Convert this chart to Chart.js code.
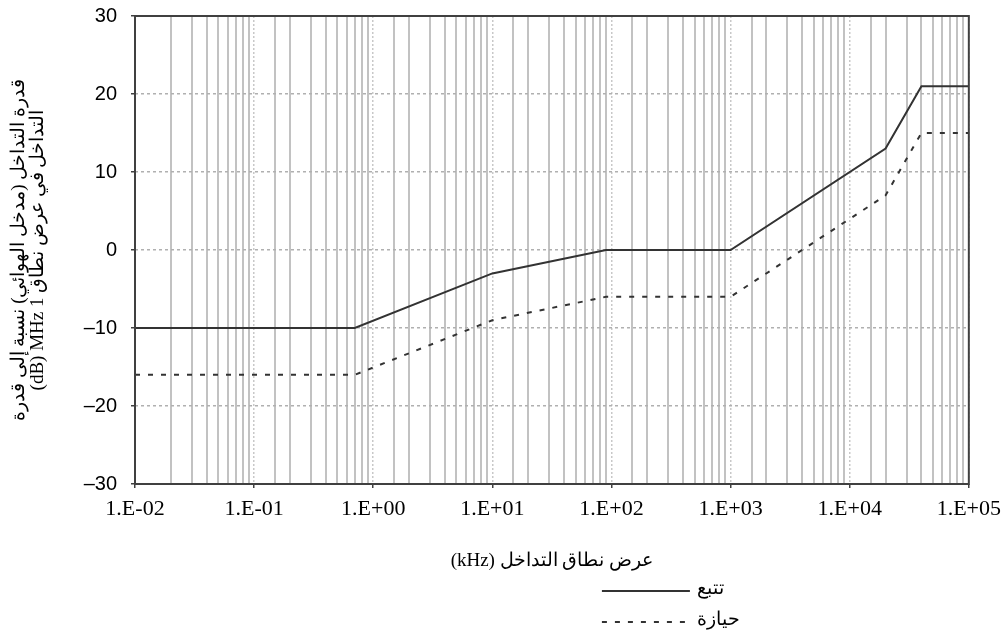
<!DOCTYPE html>
<html lang="ar">
<head>
<meta charset="utf-8">
<title>قدرة التداخل مقابل عرض النطاق</title>
<script src="https://cdn.jsdelivr.net/npm/chart.js@4.4.1/dist/chart.umd.min.js"></script>
<style>
  html, body { margin: 0; padding: 0; background: #fff; overflow: hidden; width: 1005px; height: 637px; }
  #wrap { width: 1009px; height: 647px; position: absolute; left: 0; top: -10px; }
</style>
</head>
<body>
<div id="wrap"><canvas id="chartCanvas"></canvas></div>
<script>
// --- Data ---
const bandwidthKHz = [0.01, 0.7, 10, 90, 1000, 20000, 40000, 100000];
const trackingDb = [-10, -10, -3, 0, 0, 13, 21, 21];
const holdingDb = [-16, -16, -9, -6, -6, 7, 15, 15];
const seriesLabels = ['تتبع', 'حيازة'];
const yTicks = [-30, -20, -10, 0, 10, 20, 30];
const xTickLabels = ['1.E-02', '1.E-01', '1.E+00', '1.E+01', '1.E+02', '1.E+03', '1.E+04', '1.E+05'];
const xTitle = 'عرض نطاق التداخل (kHz)';
const yTitleLines = ['قدرة التداخل (مدخل الهوائي) نسبة إلى قدرة', '(dB) MHz 1 التداخل في عرض نطاق'];

const serif = '"Liberation Serif", "DejaVu Serif", serif';
const lineColor = '#333333';

// --- Helpers ---
function decadeIndex(v) {
    if (v == null) return -1;
    const e = Math.log10(v);
    if (Math.abs(e - Math.round(e)) > 1e-9) return -1;
    return Math.round(e) + 2;
}

function toPoints(ys) {
    return bandwidthKHz.map((x, i) => ({ x: x, y: ys[i] }));
}

// --- Frame, axis titles and legend drawn on top ---
const decorations = {
    id: 'decorations',
    afterDraw(chart) {
        const { ctx, chartArea } = chart;
        const cx = (chartArea.left + chartArea.right) / 2;
        const cy = (chartArea.top + chartArea.bottom) / 2;
        const bottom = chartArea.bottom;
        ctx.save();

        ctx.strokeStyle = '#404040';
        ctx.lineWidth = 2;
        ctx.strokeRect(chartArea.left, chartArea.top, chartArea.right - chartArea.left, chartArea.bottom - chartArea.top);

        ctx.fillStyle = '#000';
        ctx.textAlign = 'center';
        ctx.textBaseline = 'middle';

        // x title
        ctx.font = '19px ' + serif;
        ctx.direction = 'rtl';
        ctx.fillText(xTitle, cx, bottom + 77);

        // y title, two rotated lines
        ctx.font = '19px ' + serif;
        ctx.save();
        ctx.translate(19, cy);
        ctx.rotate(-Math.PI / 2);
        ctx.direction = 'rtl';
        ctx.fillText(yTitleLines[0], 0, 0);
        ctx.restore();
        ctx.save();
        ctx.translate(38, cy);
        ctx.rotate(-Math.PI / 2);
        ctx.direction = 'ltr';
        ctx.fillText(yTitleLines[1], 0, 0);
        ctx.restore();

        // legend: sample line then label
        const rows = [
            { y: bottom + 107, dash: [] },
            { y: bottom + 138, dash: [5, 8] }
        ];
        ctx.font = '19px ' + serif;
        ctx.textAlign = 'left';
        ctx.direction = 'ltr';
        rows.forEach((row, i) => {
            ctx.strokeStyle = lineColor;
            ctx.lineWidth = 2;
            ctx.setLineDash(row.dash);
            ctx.beginPath();
            ctx.moveTo(cx + 50, row.y);
            ctx.lineTo(cx + 138, row.y);
            ctx.stroke();
            ctx.setLineDash([]);
            ctx.fillText(seriesLabels[i], cx + 145, row.y - 2);
        });

        ctx.restore();
    }
};

// --- Chart ---
const chartCanvas = document.getElementById('chartCanvas');
const chartInstance = new Chart(chartCanvas, {
    type: 'line',
    data: {
        datasets: [{
            label: seriesLabels[0],
            data: toPoints(trackingDb),
            borderColor: lineColor,
            borderWidth: 2,
            pointRadius: 0,
            tension: 0,
            fill: false
        }, {
            label: seriesLabels[1],
            data: toPoints(holdingDb),
            borderColor: lineColor,
            borderWidth: 2,
            borderDash: [5, 8],
            pointRadius: 0,
            tension: 0,
            fill: false
        }]
    },
    options: {
        responsive: true,
        maintainAspectRatio: false,
        animation: false,
        layout: { padding: { top: 4, right: 31, left: 0, bottom: 0 } },
        plugins: {
            legend: { display: false },
            tooltip: { enabled: false }
        },
        scales: {
            x: {
                type: 'logarithmic',
                min: 0.01,
                max: 100000,
                afterFit: (scale) => { scale.height = 153; },
                border: {
                    display: false,
                    dash: (c) => decadeIndex(c.tick && c.tick.value) >= 0 ? [2, 2] : []
                },
                grid: {
                    color: (c) => decadeIndex(c.tick && c.tick.value) >= 0 ? '#c8c8c8' : '#c2c2c2',
                    lineWidth: (c) => decadeIndex(c.tick && c.tick.value) >= 0 ? 1.5 : 2,
                    tickLength: 4,
                    tickColor: (c) => decadeIndex(c.tick && c.tick.value) >= 0 ? '#404040' : 'rgba(0,0,0,0)'
                },
                ticks: {
                    autoSkip: false,
                    maxRotation: 0,
                    padding: 8,
                    color: '#000',
                    font: { family: serif, size: 22 },
                    callback: function(value) {
                        const idx = decadeIndex(value);
                        return idx >= 0 ? xTickLabels[idx] : '';
                    }
                }
            },
            y: {
                type: 'linear',
                min: -30,
                max: 30,
                afterBuildTicks: (scale) => { scale.ticks = yTicks.map(v => ({ value: v })); },
                afterFit: (scale) => { scale.width = 135; },
                border: { display: false, dash: [3, 3] },
                grid: {
                    color: '#b0b0b0',
                    lineWidth: 1.5,
                    tickLength: 4,
                    tickColor: '#404040'
                },
                ticks: {
                    padding: 14,
                    color: '#000',
                    font: { family: '"Liberation Sans", sans-serif', size: 20 },
                    callback: function(value) {
                        return value < 0 ? '\u2013' + Math.abs(value) : String(value);
                    }
                }
            }
        }
    },
    plugins: [decorations]
});
</script>
</body>
</html>
